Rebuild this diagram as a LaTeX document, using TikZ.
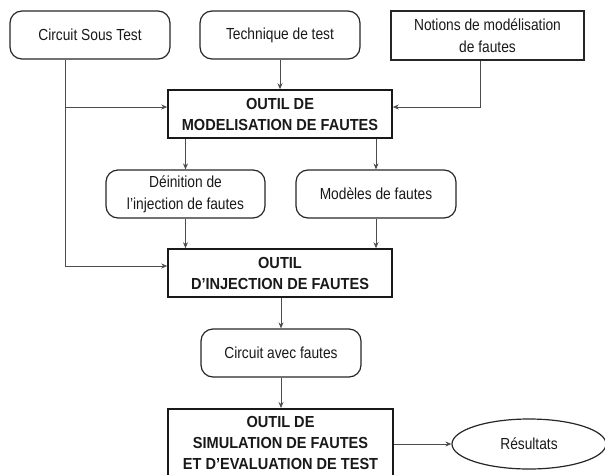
\documentclass[tikz,border=0pt]{standalone}
\usepackage{fontspec}
\setmainfont{Liberation Sans}[FakeStretch=0.86]
\newfontfamily\boldf{Liberation Sans}[FakeStretch=0.91]
\usetikzlibrary{shapes.geometric,arrows.meta}
\begin{document}
\begin{tikzpicture}[x=1pt,y=-1pt,
  every node/.style={font=\fontsize{16}{22}\selectfont, text=black!90, inner sep=2pt},
  rbox/.style={draw=black!85, line width=1.2pt, rounded corners=12pt, minimum width=160pt, minimum height=48pt, align=center},
  pbox/.style={draw=black!85, line width=1.2pt, minimum width=193pt, minimum height=49pt, align=center},
  tool/.style={draw=black!90, line width=1.6pt, minimum width=224pt, minimum height=48pt, align=center, font=\fontsize{16}{21}\selectfont\boldf\bfseries},
  conn/.style={draw=black!70, line width=0.8pt, -{Stealth[length=6pt,width=5pt]}},
  wire/.style={draw=black!70, line width=0.8pt}]
\useasboundingbox (0,0) rectangle (605,474);
\node[rbox] (cst) at (90,35) {Circuit Sous Test};
\node[rbox] (tech) at (280,35) {Technique de test};
\node[pbox] (notions) at (487.5,35.5) {Notions de modélisation\\de fautes};
\node[tool] (o1) at (280,114) {OUTIL DE\\MODELISATION DE FAUTES};
\node[rbox, minimum width=159pt] (def) at (185.5,194) {Déinition de\\l’injection de fautes};
\node[rbox] (mod) at (376,194) {Modèles de fautes};
\node[tool] (o2) at (280,273) {OUTIL\\D’INJECTION DE FAUTES};
\node[rbox] (cav) at (281,353) {Circuit avec fautes};
\node[tool, minimum width=225pt, minimum height=70pt, anchor=north] (o3) at (280.5,408) {};
\node[font=\fontsize{16}{21}\selectfont\boldf\bfseries, align=center] (o3t) at (280.5,443) {OUTIL DE\\SIMULATION DE FAUTES\\ET D’EVALUATION DE TEST};
\node[ellipse, draw=black!85, line width=1.2pt, minimum width=154pt, minimum height=50pt] (res) at (529,444) {Résultats};

\coordinate (c1) at (65,107);
\coordinate (c2) at (65,266);
\coordinate (n1) at (480,107);
\draw[wire] (cst.south -| c1) -- (c2);
\draw[conn] (c1) -- (c1 -| o1.west);
\draw[conn] (c2) -- (c2 -| o2.west);
\draw[conn] (tech.south -| o1.north) -- (o1.north);
\draw[conn] (notions.south -| n1) -- (n1) -- (n1 -| o1.east);
\draw[conn] (o1.south -| def) -- (def.north);
\draw[conn] (o1.south -| mod) -- (mod.north);
\draw[conn] (def.south) -- (def.south |- o2.north);
\draw[conn] (mod.south) -- (mod.south |- o2.north);
\draw[conn] (o2.south -| cav) -- (cav.north);
\draw[conn] (cav.south) -- (cav.south |- o3.north);
\draw[conn] (o3.east |- res) -- (res.west);
\end{tikzpicture}
\end{document}
